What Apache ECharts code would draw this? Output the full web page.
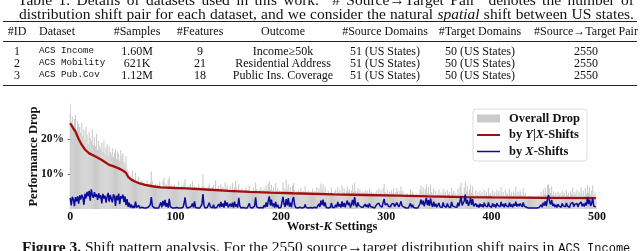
<!DOCTYPE html>
<html><head><meta charset="utf-8">
<script src="https://cdn.jsdelivr.net/npm/echarts@6/dist/echarts.min.js"></script>
<style>
html,body{margin:0;padding:0;width:640px;height:251px;overflow:hidden;background:#fff;}
#chart{position:absolute;left:0;top:0;width:640px;height:251px;}
.t{position:absolute;font-family:"Liberation Serif",serif;font-size:12px;color:#111;white-space:nowrap;line-height:14px;}
.cap{font-size:15.5px;line-height:17px;}
.c{transform:translateX(-50%);}
.mono{font-family:"Liberation Mono",monospace;font-size:9.2px;}
.cap .mono{font-size:12px;}
.rule{position:absolute;left:3px;width:634px;background:#222;}
</style></head>
<body>
<div id="chart"></div>
<div id="table"></div>
<script>
// ---------- table data ----------
const captionTop1 = 'Table 1. Details of datasets used in this work. \u201c# Source\u2192Target Pair\u201d denotes the number of';
const captionTop2 = 'distribution shift pair for each dataset, and we consider the natural <i>spatial</i> shift between US states.';
const tableHeaders = ['#ID','Dataset','#Samples','#Features','Outcome','#Source Domains','#Target Domains','#Source\u2192Target Pair'];
const tableRows = [
  ['1','ACS Income','1.60M','9','Income\u226550k','51 (US States)','50 (US States)','2550'],
  ['2','ACS Mobility','621K','21','Residential Address','51 (US States)','50 (US States)','2550'],
  ['3','ACS Pub.Cov','1.12M','18','Public Ins. Coverage','51 (US States)','50 (US States)','2550']
];
const figCaption = '<b>Figure 3.</b> Shift pattern analysis. For the 2550 source\u2192target distribution shift pairs in <span class="mono">ACS Income</span>';

// ---------- chart data ----------
const overallDrop = [
27.3,24.8,26.5,23.9,25.7,26.9,22.6,25.1,24.3,23.5,
21.8,24.6,20.9,22.7,19.8,23.4,21.2,18.6,22.1,20.3,
19.5,22.8,18.2,20.6,17.9,21.5,16.8,19.4,18.1,17.2,
18.9,16.4,19.6,15.8,17.6,18.4,15.2,17.9,16.3,15.6,
17.4,14.8,16.1,17.2,14.3,16.5,15.7,13.8,16.8,14.9,
15.9,13.6,12.8,15.1,11.4,10.8,8.9,9.6,8.2,10.9,
8.6,7.9,10.4,8.1,7.7,9.2,7.5,7.6,8.3,7.3,
7.1,7.4,6.9,8.2,7.0,6.8,7.6,10.7,7.9,6.7,
6.6,7.3,6.5,6.9,6.4,7.8,6.6,6.5,8.1,8.9,
6.8,7.2,6.3,8.4,9.2,6.5,7.0,6.2,6.4,6.9,
6.1,6.6,6.2,7.9,6.0,6.3,6.8,6.1,7.4,8.6,
6.2,5.9,6.5,6.0,7.2,6.1,7.9,6.0,6.7,5.9,
6.3,5.8,7.1,5.9,6.0,6.4,9.9,6.6,5.8,6.1,
5.7,6.5,7.3,5.8,5.6,6.2,6.9,5.7,8.2,5.6,
6.0,6.7,5.6,7.1,5.9,6.4,5.5,7.6,6.1,6.8,
5.4,5.8,6.6,5.5,7.4,5.6,6.3,8.1,5.9,5.3,
7.2,5.6,5.3,6.1,5.4,5.2,5.7,6.4,5.2,5.5,
6.8,5.1,5.4,5.0,6.2,5.3,7.6,5.7,5.0,5.2,
5.6,6.3,4.9,5.4,6.1,5.2,6.7,5.5,7.3,8.0,
5.6,6.9,5.3,6.2,4.9,7.4,5.1,6.0,4.8,5.3,
5.0,4.8,7.7,5.9,5.2,8.4,5.6,7.1,5.0,6.3,
4.9,6.8,7.5,5.4,4.7,5.1,4.6,5.5,4.8,6.0,
4.6,5.2,4.7,6.6,4.9,4.6,5.3,4.5,5.0,4.6,
5.8,4.5,5.1,4.6,6.2,4.8,5.9,5.0,7.3,5.4,
7.0,4.9,6.4,4.6,4.4,5.2,4.5,4.8,6.1,4.5,
4.4,5.0,5.6,4.5,6.3,4.7,5.4,4.3,6.7,4.8,
5.9,4.6,5.1,6.5,5.0,5.7,4.4,5.3,6.9,4.9,
7.6,5.2,4.5,6.0,4.9,5.6,4.4,5.1,4.5,4.8,
5.5,4.4,5.2,4.3,5.8,4.5,5.0,4.2,4.6,4.3,
4.7,5.3,4.4,5.9,4.6,5.4,4.2,6.1,7.2,4.9,
4.4,5.6,4.3,5.0,4.2,5.4,4.6,6.0,4.3,4.8,
5.9,5.1,4.2,5.3,6.4,4.6,5.2,4.1,4.0,4.2,
4.5,4.0,4.1,5.7,4.2,5.0,4.3,4.0,4.1,4.4,
4.0,4.3,5.5,6.8,4.9,6.2,4.4,5.8,7.1,4.6,
6.4,4.3,6.9,4.8,4.2,5.9,4.1,5.2,4.0,4.2,
5.6,4.1,4.7,3.9,5.8,4.4,5.0,4.0,5.5,4.2,
4.8,3.9,6.0,4.3,5.2,4.0,4.6,3.9,5.7,4.3,
6.3,7.4,4.5,4.0,6.1,7.8,5.0,6.6,4.2,5.5,
6.9,4.6,6.5,4.1,3.8,5.4,3.9,4.7,3.8,5.2,
4.0,4.8,3.8,5.6,4.2,5.0,3.8,6.0,4.1,4.6,
3.8,5.3,4.0,4.8,3.7,5.5,4.3,5.1,3.9,6.2,
4.1,4.9,3.7,5.4,4.2,4.6,3.8,5.8,4.0,4.7,
3.7,5.1,4.2,6.3,3.9,4.9,4.1,5.3,4.4,3.8,
5.9,4.0,4.6,3.7,3.6,3.7,3.6,3.8,3.6,3.7,
3.6,3.7,3.6,3.6,3.8,3.9,3.6,4.8,3.8,5.6,
4.3,6.1,4.0,6.8,7.2,5.9,4.6,6.4,4.1,5.0,
3.8,4.6,3.6,5.0,4.0,4.5,3.7,5.3,4.1,4.7,
3.7,5.5,4.0,4.6,3.6,5.1,4.2,6.0,3.9,4.8,
4.1,5.4,3.7,5.0,4.3,6.2,3.9,5.2,3.8,5.9,
4.2,6.9,4.6,6.3,4.0,5.3,6.7,3.9,4.7,3.6
];
const xShiftDrop = [
3.2,1.0,3.5,2.8,0.8,3.4,2.2,3.6,1.5,3.9,
2.7,4.1,3.3,1.2,4.4,3.0,4.9,3.6,5.2,2.4,
5.6,4.0,3.2,4.8,3.5,4.2,2.6,4.5,3.1,3.9,
1.6,4.3,3.0,3.8,1.8,3.4,4.6,2.1,4.0,3.5,
1.9,4.2,3.6,0.9,3.8,2.5,4.4,1.4,3.7,3.0,
4.1,2.0,3.6,1.1,2.8,0.6,1.8,0.4,1.3,0.3,
0.9,0.3,2.1,0.4,0.3,1.1,0.3,0.3,0.5,0.3,
0.3,0.4,0.3,0.3,0.5,0.3,1.2,3.4,0.8,0.3,
0.3,0.4,0.3,0.3,0.3,0.6,1.9,0.5,2.3,1.0,
2.6,0.6,1.7,0.4,2.9,0.7,1.1,0.3,0.5,0.3,
0.3,0.4,0.3,0.3,0.6,0.3,0.3,0.4,1.5,3.3,
0.9,0.3,0.3,0.4,0.3,0.8,1.6,0.5,2.2,0.4,
0.3,0.3,0.6,0.3,0.4,1.3,4.3,1.0,0.3,0.3,
0.4,0.3,1.8,0.6,0.3,0.3,1.2,0.3,0.3,0.4,
0.3,1.4,0.5,2.0,0.6,1.6,0.4,2.4,0.9,1.9,
0.5,0.3,1.5,0.6,1.8,0.4,2.1,0.7,1.3,0.4,
3.2,0.9,0.3,0.3,0.4,0.3,0.3,0.5,0.3,0.3,
1.6,0.4,0.3,0.3,0.3,0.8,3.3,0.6,0.3,0.3,
0.3,0.4,0.3,0.3,1.1,0.5,1.9,0.6,2.3,3.6,
1.0,2.7,0.8,1.6,0.4,2.0,0.5,1.2,0.3,0.3,
0.4,0.3,3.5,1.4,0.6,2.8,1.0,3.1,0.7,1.8,
0.5,2.5,3.4,1.2,0.4,0.3,0.3,0.3,0.5,0.3,
0.3,0.3,0.4,1.3,0.4,0.3,0.3,0.3,0.4,0.3,
0.3,0.3,0.5,0.3,0.3,0.4,1.5,0.6,2.4,1.1,
2.7,0.8,1.9,0.4,0.3,0.3,0.3,0.5,1.7,0.4,
0.3,0.4,1.2,0.5,2.0,0.7,1.4,0.4,2.2,0.6,
1.7,0.5,0.9,2.4,1.1,1.8,0.4,1.3,2.6,1.0,
3.4,1.2,0.5,1.9,1.0,1.5,0.6,1.1,0.5,0.8,
1.4,0.6,1.2,0.4,1.6,0.7,1.1,0.5,0.4,0.3,
0.6,1.3,0.8,1.7,0.9,1.4,0.5,1.8,2.9,1.2,
0.7,1.5,0.8,1.1,0.6,1.4,0.9,1.6,0.7,1.0,
1.8,1.2,0.6,1.3,2.2,0.9,1.4,0.5,0.3,0.3,
0.4,0.3,0.3,1.6,0.5,1.2,0.4,0.3,0.3,0.4,
0.3,0.6,1.5,2.7,1.3,2.4,0.8,1.9,3.2,1.1,
2.5,0.9,3.0,1.4,0.6,2.1,0.7,1.5,0.5,0.4,
1.7,0.6,1.1,0.4,1.9,0.8,1.3,0.5,1.6,0.7,
1.2,0.4,2.0,0.9,1.4,0.6,1.1,0.5,1.8,0.8,
2.2,3.6,1.0,0.6,2.3,4.1,1.5,2.6,0.9,1.7,
3.1,1.2,2.8,0.8,0.5,1.6,0.6,1.2,0.4,1.5,
0.7,1.3,0.5,1.8,0.9,1.4,0.6,1.9,0.8,1.2,
0.5,1.6,0.7,1.3,0.4,1.7,1.0,1.5,0.6,2.0,
0.8,1.4,0.5,1.6,0.9,1.2,0.6,1.8,0.7,1.3,
0.5,1.5,0.9,2.1,0.7,1.4,0.8,1.6,1.1,0.6,
1.9,0.8,1.3,0.5,0.3,0.3,0.3,0.3,0.3,0.3,
0.3,0.3,0.3,0.3,0.3,0.4,0.3,1.2,0.5,1.8,
1.0,2.2,0.8,2.9,4.0,2.1,1.3,2.6,0.9,1.5,
0.6,1.2,0.4,1.4,0.8,1.1,0.5,1.6,0.9,1.3,
0.6,1.7,0.8,1.2,0.5,1.5,1.0,1.9,0.7,1.3,
0.9,1.6,0.6,1.4,1.1,2.0,0.8,1.5,0.7,1.8,
1.0,3.5,1.4,2.7,0.9,1.6,3.1,0.8,1.3,0.6
];
const yxShiftK = [0,3,5,8,11,14,18,24,30,37,42,46,50,53,55,58,62,66,71,78,86,100,110,133,150,170,190,211,250,280,311,340,374,400,450,499];
const yxShiftDrop = [24.5,23,22.1,20,18.3,17,15.9,15,14,12.6,12.1,11.6,11,10.3,9.2,8.4,7.8,7.3,6.9,6.5,6.2,6.0,5.9,5.5,5.2,4.9,4.7,4.5,4.2,4.0,3.8,3.6,3.4,3.3,3.2,3.1];
const xTickValues = [0,100,200,300,400,500];
const yTickValues = [10,20];
const seriesNames = ['Overall Drop','by Y|X-Shifts','by X-Shifts'];

// ---------- table layout ----------
const tbl = document.getElementById('table');
function addText(html, x, y, cls){
  const d=document.createElement('div');
  d.className='t'+(cls?' '+cls:'');
  d.innerHTML=html; d.style.left=x+'px';
  tbl.appendChild(d);
  d.style.top=(y-d.offsetHeight/2)+'px';
  return d;
}
function justify(d, x0, x1){
  const words=(d.textContent.match(/ /g)||[]).length;
  const w=d.getBoundingClientRect().width;
  if(words>0) d.style.wordSpacing=Math.max(0,(x1-x0-w)/words)+'px';
  d.style.left=x0+'px';
}
function addRule(y,h){const r=document.createElement('div');r.className='rule';r.style.top=y+'px';r.style.height=h+'px';tbl.appendChild(r);}
justify(addText(captionTop1, 0, -1, 'cap'), 18, 634);
justify(addText(captionTop2, 0, 13.5, 'cap'), 19, 634);
addRule(20.5,1.4); addRule(40.5,0.8); addRule(85,1.4);
const colX=[17,39,137,200,283,385,480,586];
tableHeaders.forEach((h,i)=>addText(h,colX[i],31,i===1?'':'c'));
const rowY=[51,63,75];
tableRows.forEach((row,r)=>row.forEach((v,i)=>{
  addText(v,colX[i],rowY[r], i===1?'mono':'c');
}));
justify(addText(figCaption, 0, 247.5, 'cap'), 22, 616);

// ---------- chart ----------
const chart = echarts.init(document.getElementById('chart'));
const font = 'Liberation Serif';
const redC='#a50d0d', blueC='#0c0c9c';
chart.setOption({
  animation:false,
  grid:{left:66,right:42,top:104,bottom:42},
  legend:{
    left:473, top:109, orient:'vertical',
    backgroundColor:'#fff', borderColor:'#dcdcdc', borderWidth:1, borderRadius:3,
    padding:[2.5,7,2.5,4], itemGap:2.5, itemWidth:23, itemHeight:8,
    itemStyle:{borderWidth:0},
    textStyle:{fontFamily:font,fontWeight:'bold',fontSize:12.5,color:'#111',lineHeight:14,padding:[0,0,0,4],
      rich:{i:{fontStyle:'italic',fontFamily:font,fontWeight:'bold',fontSize:12.5,color:'#111'}}},
    formatter:function(n){
      if(n===seriesNames[1]) return 'by {i|Y}|{i|X}-Shifts';
      if(n===seriesNames[2]) return 'by {i|X}-Shifts';
      return n;
    },
    data:[
      {name:seriesNames[0],icon:'rect'},
      {name:seriesNames[1],icon:'path://M0,0L0.01,0L0.01,8L0,8Z M0,2.9L23,2.9L23,5.1L0,5.1Z'},
      {name:seriesNames[2],icon:'path://M0,0L0.01,0L0.01,8L0,8Z M0,3.2L23,3.2L23,4.8L0,4.8Z'}
    ]
  },
  xAxis:{
    type:'value', min:-4, max:501,
    name:'Worst-{i|K} Settings', nameLocation:'middle', nameGap:11, nameMoveOverlap:false,
    nameTextStyle:{fontFamily:font,fontWeight:'bold',fontSize:12.5,color:'#111',
      rich:{i:{fontStyle:'italic',fontFamily:font,fontWeight:'bold',fontSize:12.5,color:'#111'}}},
    axisLine:{show:false}, axisTick:{show:false}, splitLine:{show:false},
    axisLabel:{customValues:xTickValues, margin:2, fontFamily:font,fontWeight:'bold',fontSize:12,color:'#111'}
  },
  yAxis:{
    type:'value', min:0, max:30, interval:10,
    name:'Performance Drop', nameLocation:'middle', nameGap:26, nameMoveOverlap:false,
    nameTextStyle:{fontFamily:font,fontWeight:'bold',fontSize:12.5,color:'#111'},
    axisLine:{show:true,lineStyle:{color:'#d8d8d8',width:1}},
    axisTick:{show:true,length:2.5,customValues:yTickValues,lineStyle:{color:'#555'}},
    axisLabel:{customValues:yTickValues, margin:2, formatter:'{value}%', fontFamily:font,fontWeight:'bold',fontSize:11.5,color:'#111'},
    splitLine:{show:true,showMinLine:false,showMaxLine:false,lineStyle:{color:'#ececec',width:1}}
  },
  series:[
    {name:seriesNames[0], type:'bar', barWidth:1.1, itemStyle:{color:'#cbcbcb'},
     data:overallDrop.map((v,i)=>[i,v]), z:1},
    {name:seriesNames[1], type:'line', symbol:'none', lineStyle:{color:redC,width:2.3}, itemStyle:{color:redC,borderWidth:0},
     data:yxShiftK.map((k,i)=>[k,yxShiftDrop[i]]), z:3},
    {name:seriesNames[2], type:'line', symbol:'none', lineStyle:{color:blueC,width:1.5}, itemStyle:{color:blueC,borderWidth:0},
     data:xShiftDrop.map((v,i)=>[i,v]), z:4}
  ]
});
</script>
</body></html>
